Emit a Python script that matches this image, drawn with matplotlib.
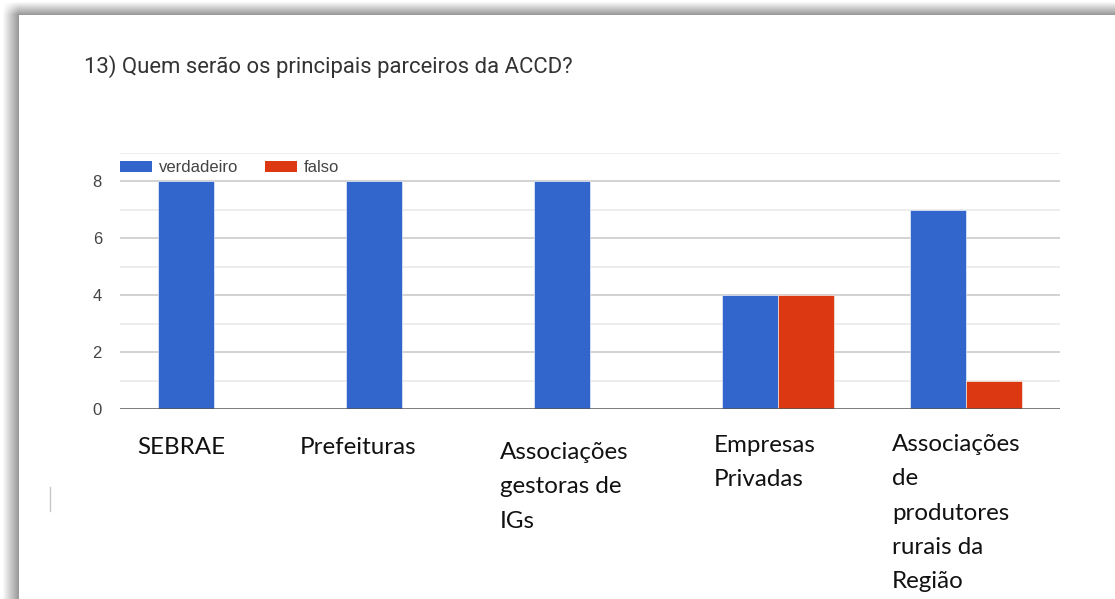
import numpy as np
import matplotlib
matplotlib.use("Agg")
import matplotlib.pyplot as plt
from matplotlib.patches import Patch

# Survey answers: "13) Quem serão os principais parceiros da ACCD?"
title = "13) Quem serão os principais parceiros da ACCD?"
categories = [
    "SEBRAE",
    "Prefeituras",
    "Associações\ngestoras de\nIGs",
    "Empresas\nPrivadas",
    "Associações\nde\nprodutores\nrurais da\nRegião",
]
verdadeiro = [8, 8, 8, 4, 7]
falso = [0, 0, 0, 4, 1]
series_names = ["verdadeiro", "falso"]
y_ticks = [0, 2, 4, 6, 8]

BLUE = "#3366cc"
RED = "#dc3912"

W, H = 1115, 599
fig = plt.figure(figsize=(W / 100, H / 100), dpi=100)


def fx(px):
    return px / W


def fy(py):
    return 1 - py / H


# Page frame with a soft shadow along the top and left edges
bg = fig.add_axes([0, 0, 1, 1], zorder=-10)
xx = np.arange(W)[None, :]
yy = np.arange(H)[:, None]
dx = np.clip((xx - 2) / 16.0, 0, 1)
dy = np.clip((yy - 1) / 13.0, 0, 1)
shade = 1 - 0.40 * dx * dy
inside = (xx >= 19) & (yy >= 15)
shade = np.where(inside, 1.0, shade)
bg.imshow(shade, cmap="gray", vmin=0, vmax=1, aspect="auto",
          interpolation="nearest", extent=(0, 1, 0, 1))
bg.set_axis_off()
fig.add_artist(plt.Line2D([fx(50), fx(50)], [fy(487), fy(511)],
                          color="#c8c8c8", lw=1.0))

# Chart area
ax = fig.add_axes([fx(120), fy(409), fx(1060) - fx(120), (409 - 152.5) / H])
ax.set_facecolor("none")
x = np.arange(len(categories))
w = 0.30
ax.bar(x - w / 2, verdadeiro, w, color=BLUE, edgecolor="white", linewidth=0.4, zorder=3)
ax.bar(x + w / 2, falso, w, color=RED, edgecolor="white", linewidth=0.4, zorder=3)
ax.set_xlim(-0.5, len(categories) - 0.5)
ax.set_ylim(0, 9)

for v in range(1, 10):
    ax.axhline(v, color="#cfcfcf" if v % 2 == 0 else "#ececec", lw=1.3, zorder=1)
ax.axhline(0, color="#555555", lw=1.8, zorder=4)

for s in ax.spines.values():
    s.set_visible(False)
ax.set_xticks([])
ax.set_yticks(y_ticks)
ax.tick_params(axis="y", length=0, pad=13, labelsize=12, labelcolor="#444444")
for t in ax.get_yticklabels():
    t.set_fontfamily("Liberation Sans")

handles = [Patch(facecolor=BLUE), Patch(facecolor=RED)]
leg = fig.legend(handles, series_names, loc="center left",
                 bbox_to_anchor=(fx(120), fy(168)), ncol=2, frameon=False,
                 prop={"family": "Liberation Sans", "size": 12},
                 handlelength=1.92, handleheight=0.66, handletextpad=0.42,
                 columnspacing=1.6, borderpad=0, borderaxespad=0)
for t in leg.get_texts():
    t.set_color("#444444")

fig.text(fx(84), fy(67), title, family="Roboto", fontsize=15.9,
         color="#333333", ha="left", va="center")

# Category names, set as left-aligned text blocks under each group
label_pos = [(137, 437), (300, 437), (500, 442), (714, 435), (892, 434)]
for name, (px, py) in zip(categories, label_pos):
    fig.text(fx(px), fy(py), name, family="Lato", fontsize=17.4,
             color="#111111", ha="left", va="top", linespacing=1.78)

fig.savefig("out.png", dpi=100)
